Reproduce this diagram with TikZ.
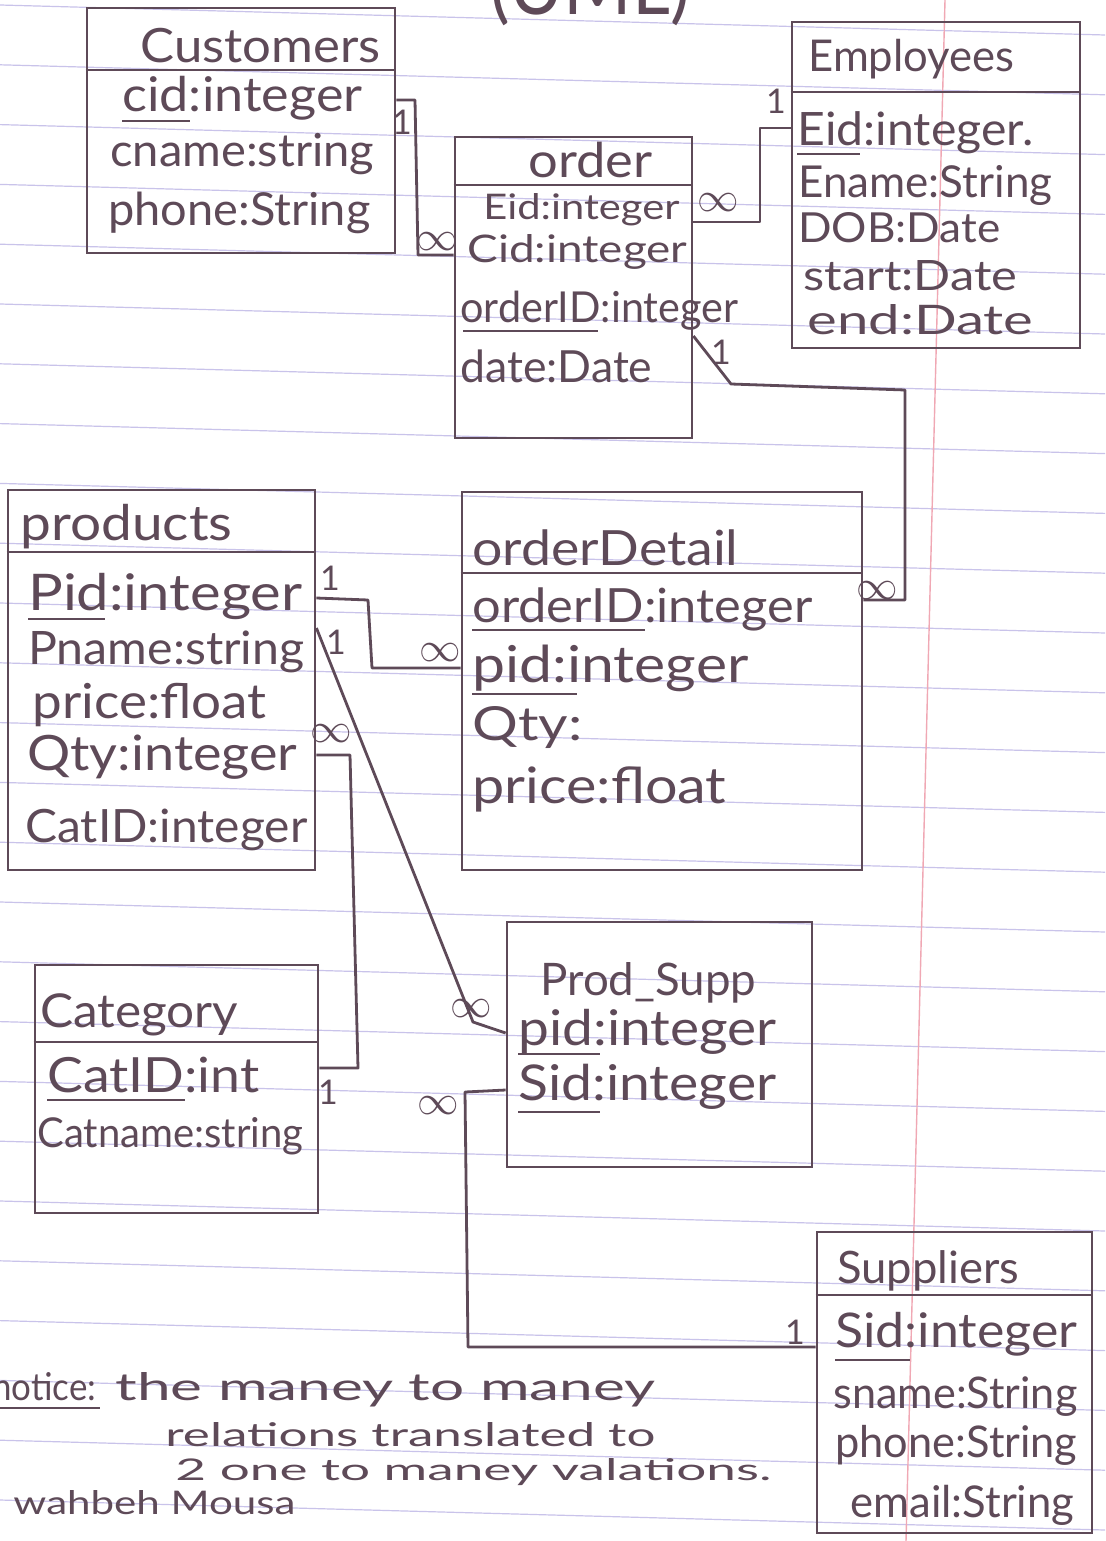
\documentclass[tikz,border=0pt]{standalone}
\usepackage{fontspec}
\setmainfont{Lato}
\usetikzlibrary{fit}
\definecolor{ink}{HTML}{5E4A58}
\definecolor{ruleline}{HTML}{C9C3EA}
\definecolor{marginline}{HTML}{F0A8B4}
\newsavebox\twbox
% width-fitted text: horizontal factor fits the width, vertical factor is its square root
\newcommand\tw[2]{\sbox\twbox{#2}\pgfmathsetmacro\twx{#1/\the\wd\twbox}\pgfmathsetmacro\twy{sqrt(\twx)}\scalebox{\twx}[\twy]{\usebox\twbox}}
% width and ascender height fixed
\newcommand\twh[3]{\resizebox{#1pt}{#2pt}{#3}}
\tikzset{
 box/.style={draw=ink, line width=1.4pt, inner sep=0pt},
 conn/.style={draw=ink, line width=1.4pt, line join=round},
 fld/.style={anchor=base west, inner sep=0pt, text=ink, font=\fontsize{22}{24}\selectfont},
 note/.style={anchor=base west, inner sep=0pt, text=ink, font=\fontsize{18}{19}\selectfont},
 mult/.style={text=ink, inner sep=0pt, font=\fontsize{17}{17}\selectfont},
 inf/.style={text=ink, inner sep=0pt, font=\fontsize{21}{21}\selectfont},
 ul/.style={draw=ink, line width=1.4pt},
 sep/.style={draw=ink, line width=1.4pt},
}
\begin{document}
\begin{tikzpicture}[x=0.5pt,y=-0.5pt]
\useasboundingbox (0,0) rectangle (1105,1541);
\fill[white] (0,0) rectangle (1105,1541);
% ruled paper
\foreach \k in {0,...,25} \draw[ruleline, line width=0.6pt] (0,{5+59.8*\k}) -- (1105,{35+59.8*\k});
\draw[marginline, line width=0.7pt] (945,0) -- (906,1541);

% title (cut at top)
\node[anchor=base, inner sep=0pt, text=ink, font=\fontsize{40}{40}\selectfont] (title) at (590,15) {\twh{100}{30}{(UML)}};

% Customers
\node[box, fit={(87,8) (395,253)}] (cust) {};
\draw[sep] (cust.west |- 0,70) -- (cust.east |- 0,70);
\node[fld] (custT) at (140,62) {\tw{120}{Customers}};
\node[fld] (custA) at (122,112) {\tw{120}{cid:integer}};
\node[fld] (custB) at (110,167) {\tw{132}{cname:string}};
\node[fld] (custC) at (108,225) {\tw{131}{phone:String}};
\draw[ul] (122,121) -- (190,121);

% order
\node[box, fit={(455,137) (692,438)}] (ord) {};
\draw[sep] (ord.west |- 0,185) -- (ord.east |- 0,185);
\node[fld] (ordT) at (528,177) {\tw{62}{order}};
\node[fld] (ordA) at (483,220) {\twh{98}{13}{Eid:integer}};
\node[fld] (ordB) at (467,262) {\twh{110}{14}{Cid:integer}};
\node[fld] (ordC) at (460,322) {\tw{139}{orderID:integer}};
\node[fld] (ordD) at (460,382) {\tw{96}{date:Date}};
\draw[ul] (463,331) -- (598,331);

% Employees
\node[box, fit={(792,22) (1080,348)}] (emp) {};
\draw[sep] (emp.west |- 0,92) -- (emp.east |- 0,92);
\node[fld] (empT) at (808,72) {\tw{103}{Employees}};
\node[fld] (empA) at (797,145) {\tw{118}{Eid:integer.}};
\node[fld] (empB) at (798,197) {\tw{127}{Ename:String}};
\node[fld] (empC) at (798,242) {\twh{101}{15}{DOB:Date}};
\node[fld] (empD) at (803,290) {\twh{107}{15}{start:Date}};
\node[fld] (empE) at (807,334) {\twh{113}{15}{end:Date}};
\draw[ul] (797,154) -- (860,154);

% products
\node[box, fit={(8,490) (315,870)}] (prod) {};
\draw[sep] (prod.west |- 0,552) -- (prod.east |- 0,552);
\node[fld] (prodT) at (20,540) {\tw{106}{products}};
\node[fld] (prodA) at (28,610) {\tw{137}{Pid:integer}};
\node[fld] (prodB) at (28,664) {\tw{138}{Pname:string}};
\node[fld] (prodC) at (32,718) {\tw{117}{price:float}};
\node[fld] (prodD) at (27,770) {\tw{135}{Qty:integer}};
\node[fld] (prodE) at (25,842) {\tw{141}{CatID:integer}};
\draw[ul] (28,619) -- (105,619);

% orderDetail
\node[box, fit={(462,492) (862,870)}] (odet) {};
\draw[sep] (odet.west |- 0,573) -- (odet.east |- 0,573);
\node[fld] (odetT) at (472,565) {\tw{133}{orderDetail}};
\node[fld] (odetA) at (472,622) {\tw{170}{orderID:integer}};
\node[fld] (odetB) at (472,682) {\tw{138}{pid:integer}};
\node[fld] (odetC) at (472,740) {\twh{55}{17}{Qty:}};
\node[fld] (odetD) at (472,803) {\tw{127}{price:float}};
\draw[ul] (472,630) -- (645,630);
\draw[ul] (472,694) -- (577,694);

% Category
\node[box, fit={(35,965) (318,1213)}] (cat) {};
\draw[sep] (cat.west |- 0,1042) -- (cat.east |- 0,1042);
\node[fld] (catT) at (40,1027) {\tw{99}{Category}};
\node[fld] (catA) at (47,1092) {\tw{106}{CatID:int}};
\node[fld] (catB) at (37,1147) {\twh{133}{15}{Catname:string}};
\draw[ul] (47,1100) -- (185,1100);

% Prod_Supp
\node[box, fit={(507,922) (812,1167)}] (ps) {};
\node[fld] (psT) at (540,995) {\tw{108}{Prod\_Supp}};
\node[fld] (psA) at (518,1045) {\tw{129}{pid:integer}};
\node[fld] (psB) at (518,1100) {\tw{129}{Sid:integer}};
\draw[ul] (518,1054) -- (600,1054);
\draw[ul] (518,1112) -- (600,1112);

% Suppliers
\node[box, fit={(817,1232) (1092,1533)}] (sup) {};
\draw[sep] (sup.west |- 0,1295) -- (sup.east |- 0,1295);
\node[fld] (supT) at (837,1283) {\tw{91}{Suppliers}};
\node[fld] (supA) at (835,1347) {\tw{121}{Sid:integer}};
\node[fld] (supB) at (833,1408) {\tw{122}{sname:String}};
\node[fld] (supC) at (835,1457) {\tw{121}{phone:String}};
\node[fld] (supD) at (850,1517) {\tw{112}{email:String}};
\draw[ul] (835,1360) -- (910,1360);

% connectors
\draw[conn] (cust.east |- 0,100) -- (415,100) -- (418,255) -- (ord.west |- 0,255);
\node[mult] (m1a) at (402,122) {1};
\node[inf] (m1b) at (437,242) {$\infty$};

\draw[conn] (ord.east |- 0,222) -- (760,222) -- (760,128) -- (emp.west |- 0,128);
\node[inf] (m2a) at (718,203) {$\infty$};
\node[mult] (m2b) at (776,101) {1};

\draw[conn] (ord.east |- 0,336) -- (731,384) -- (905,390) -- (905,600) -- (odet.east |- 0,600);
\node[mult] (m3a) at (721,352) {1};
\node[inf] (m3b) at (877,591) {$\infty$};

\draw[conn] (prod.east |- 0,598) -- (368,600) -- (372,668) -- (odet.west |- 0,668);
\node[mult] (m4a) at (330,578) {1};
\node[inf] (m4b) at (440,653) {$\infty$};

\draw[conn] (prod.east |- 0,628) -- (473,1022) -- (ps.west |- 0,1033);
\node[mult] (m5a) at (336,642) {1};
\node[inf] (m5b) at (471,1009) {$\infty$};

\draw[conn] (prod.east |- 0,755) -- (350,755) -- (358,1068) -- (cat.east |- 0,1068);
\node[inf] (m6a) at (331,734) {$\infty$};
\node[mult] (m6b) at (328,1092) {1};

\draw[conn] (ps.west |- 0,1090) -- (465,1092) -- (468,1347) -- (sup.west |- 0,1347);
\node[inf] (m7a) at (438,1106) {$\infty$};
\node[mult] (m7b) at (795,1332) {1};

% notice
\node[note] (n1) at (-8,1400) {\twh{52}{14}{notice:}};
\draw[ul] (0,1408) -- (100,1408);
\node[note] (n2) at (115,1400) {\twh{270}{14}{the maney to maney}};
\node[note] (n3) at (165,1446) {\twh{245}{12}{relations translated to}};
\node[note] (n4) at (175,1480) {\twh{298}{11}{2 one to maney valations.}};
\node[note] (n5) at (13,1514) {\twh{141}{12}{wahbeh Mousa}};
\end{tikzpicture}
\end{document}
